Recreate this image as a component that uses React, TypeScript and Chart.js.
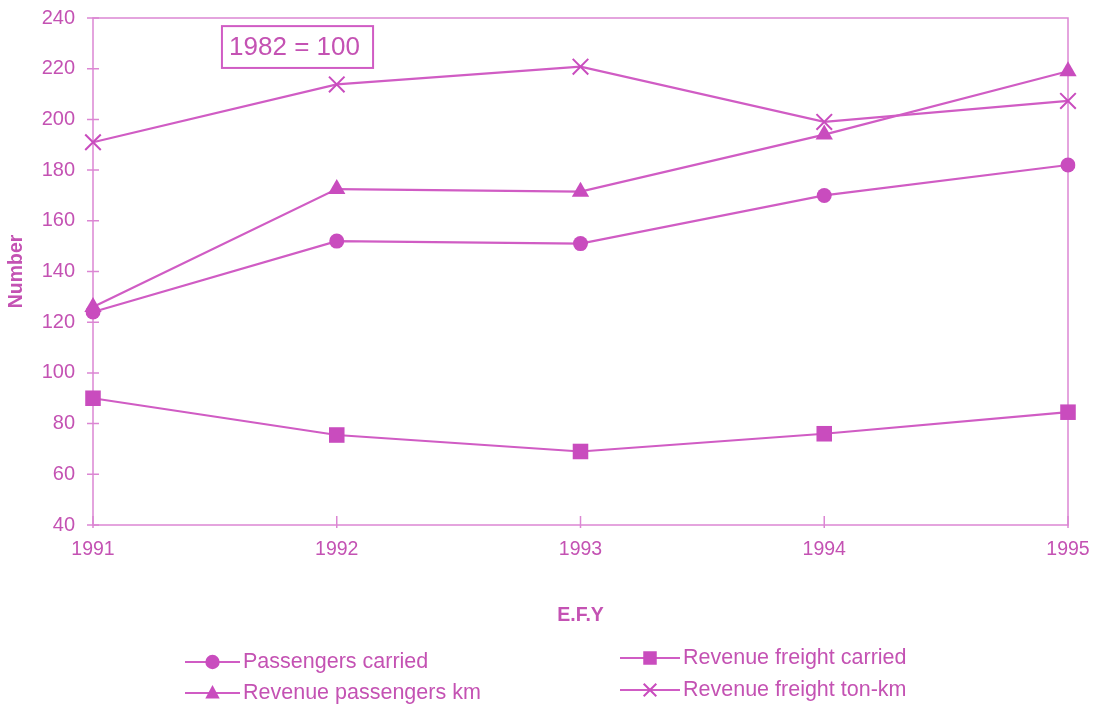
import React, { useEffect, useRef } from 'react';
import { Chart, registerables } from 'chart.js';

Chart.register(...registerables);

const years = ['1991', '1992', '1993', '1994', '1995'];
const passengersCarried = [124, 152, 151, 170, 182];
const revenuePassengersKm = [126, 172.5, 171.5, 194, 219];
const revenueFreightCarried = [90, 75.5, 69, 76, 84.5];
const revenueFreightTonKm = [191, 213.8, 220.8, 199, 207.3];
const yMin = 40;
const yMax = 240;
const yStep = 20;
const seriesNames = [
  'Passengers carried',
  'Revenue passengers km',
  'Revenue freight carried',
  'Revenue freight ton-km',
];
const noteText = '1982 = 100';
const xTitle = 'E.F.Y';
const yTitle = 'Number';

const LINE = '#d05cc4';
const FILL = '#c94cbe';
const TEXT = '#c452b3';
const FRAME = '#dc86d3';
const FONT = "'Liberation Sans', Arial, sans-serif";

type Style = 'circle' | 'triangle' | 'rect' | 'crossRot';

function drawMarker(ctx: CanvasRenderingContext2D, style: Style, x: number, y: number, s: number) {
  ctx.save();
  ctx.fillStyle = FILL;
  ctx.strokeStyle = FILL;
  ctx.lineWidth = 2;
  ctx.beginPath();
  if (style === 'circle') {
    ctx.arc(x, y, s * 0.8, 0, Math.PI * 2);
    ctx.fill();
  } else if (style === 'rect') {
    ctx.rect(x - s * 0.75, y - s * 0.75, s * 1.5, s * 1.5);
    ctx.fill();
  } else if (style === 'triangle') {
    ctx.moveTo(x, y - s * 0.9);
    ctx.lineTo(x + s * 0.8, y + s * 0.6);
    ctx.lineTo(x - s * 0.8, y + s * 0.6);
    ctx.closePath();
    ctx.fill();
  } else {
    const d = s * 0.7;
    ctx.moveTo(x - d, y - d);
    ctx.lineTo(x + d, y + d);
    ctx.moveTo(x + d, y - d);
    ctx.lineTo(x - d, y + d);
    ctx.stroke();
  }
  ctx.restore();
}

const styles: Style[] = ['circle', 'triangle', 'rect', 'crossRot'];

const decorPlugin = {
  id: 'decor',
  beforeDatasetsDraw(chart: any) {
    const { ctx, chartArea: a, scales } = chart;
    const x = scales.x;
    const y = scales.y;
    ctx.save();
    ctx.strokeStyle = FRAME;
    ctx.lineWidth = 1.5;
    ctx.strokeRect(a.left, a.top, a.right - a.left, a.bottom - a.top);
    ctx.beginPath();
    y.ticks.forEach((t: any) => {
      const py = y.getPixelForValue(t.value);
      ctx.moveTo(a.left - 6, py);
      ctx.lineTo(a.left + 6, py);
    });
    x.ticks.forEach((t: any) => {
      const px = x.getPixelForValue(t.value);
      ctx.moveTo(px, a.bottom - 9);
      ctx.lineTo(px, a.bottom + 3);
    });
    ctx.stroke();

    // note box
    const bx0 = x.getPixelForValue(0.529);
    const bx1 = x.getPixelForValue(1.149);
    const by0 = y.getPixelForValue(236.8);
    const by1 = y.getPixelForValue(220.3);
    ctx.strokeStyle = LINE;
    ctx.lineWidth = 2;
    ctx.strokeRect(bx0, by0, bx1 - bx0, by1 - by0);
    ctx.fillStyle = TEXT;
    ctx.font = `26px ${FONT}`;
    ctx.textAlign = 'center';
    ctx.textBaseline = 'middle';
    ctx.fillText(noteText, (bx0 + bx1) / 2 - 3, (by0 + by1) / 2 + 1);
    ctx.restore();
  },
  afterDraw(chart: any) {
    const { ctx } = chart;
    const cols = [
      { lx0: 185, lx1: 240, tx: 243 },
      { lx0: 620, lx1: 680, tx: 683 },
    ];
    const rows = [
      [662, 693],
      [658, 690],
    ];
    const order = [
      [0, 0, 0],
      [1, 0, 1],
      [2, 1, 0],
      [3, 1, 1],
    ];
    ctx.save();
    ctx.font = `21.5px ${FONT}`;
    ctx.textAlign = 'left';
    ctx.textBaseline = 'middle';
    order.forEach(([di, ci, ri]) => {
      const c = cols[ci];
      const yy = rows[ci][ri];
      ctx.strokeStyle = LINE;
      ctx.lineWidth = 2;
      ctx.beginPath();
      ctx.moveTo(c.lx0, yy);
      ctx.lineTo(c.lx1, yy);
      ctx.stroke();
      drawMarker(ctx, styles[di], (c.lx0 + c.lx1) / 2, yy, 9);
      ctx.fillStyle = TEXT;
      ctx.fillText(chart.data.datasets[di].label, c.tx, yy);
    });
    ctx.restore();
  },
};

export default function App() {
  const ref = useRef<HTMLCanvasElement | null>(null);
  useEffect(() => {
    if (!ref.current) return;
    const mk = (label: string, data: number[], style: Style, r: number, w = 0) => ({
      label,
      data,
      borderColor: LINE,
      backgroundColor: FILL,
      borderWidth: 2.2,
      pointStyle: style,
      pointRadius: r,
      pointBorderWidth: w,
      pointBorderColor: FILL,
      pointBackgroundColor: FILL,
      tension: 0,
      fill: false,
    });
    const chart = new Chart(ref.current, {
      type: 'line',
      data: {
        labels: years,
        datasets: [
          mk(seriesNames[0], passengersCarried, 'circle', 7.5),
          mk(seriesNames[1], revenuePassengersKm, 'triangle', 10),
          mk(seriesNames[2], revenueFreightCarried, 'rect', 11),
          mk(seriesNames[3], revenueFreightTonKm, 'crossRot', 11, 2),
        ],
      },
      options: {
        animation: false,
        responsive: true,
        maintainAspectRatio: false,
        layout: { padding: { left: 0, top: 18, right: 29, bottom: 79 } },
        plugins: {
          legend: { display: false },
          tooltip: { enabled: false },
        },
        scales: {
          x: {
            type: 'category',
            offset: false,
            grid: { display: false },
            border: { display: false },
            ticks: {
              color: TEXT,
              font: { family: FONT, size: 19.5 },
              padding: 5,
              maxRotation: 0,
              autoSkip: false,
            },
            title: {
              display: true,
              text: xTitle,
              color: TEXT,
              font: { family: FONT, size: 19.5, weight: 'bold' },
              padding: { top: 4, bottom: 4 },
            },
            afterFit: (s: any) => {
              s.height = 106;
              s.paddingLeft = 0;
              s.paddingRight = 0;
            },
          },
          y: {
            min: yMin,
            max: yMax,
            grid: { display: false },
            border: { display: false },
            ticks: {
              stepSize: yStep,
              color: TEXT,
              font: { family: FONT, size: 20 },
              padding: 10,
            },
            title: {
              display: true,
              text: yTitle,
              color: TEXT,
              font: { family: FONT, size: 19.5, weight: 'bold' },
              padding: { top: 5, bottom: 5 },
            },
            afterFit: (s: any) => {
              s.width = 93;
              s.paddingTop = 0;
              s.paddingBottom = 0;
            },
          },
        },
      } as any,
      plugins: [decorPlugin],
    });
    return () => chart.destroy();
  }, []);
  return (
    <div style={{ position: 'fixed', left: 0, top: 0, width: 1097, height: 710, background: '#fff' }}>
      <canvas ref={ref} />
    </div>
  );
}
